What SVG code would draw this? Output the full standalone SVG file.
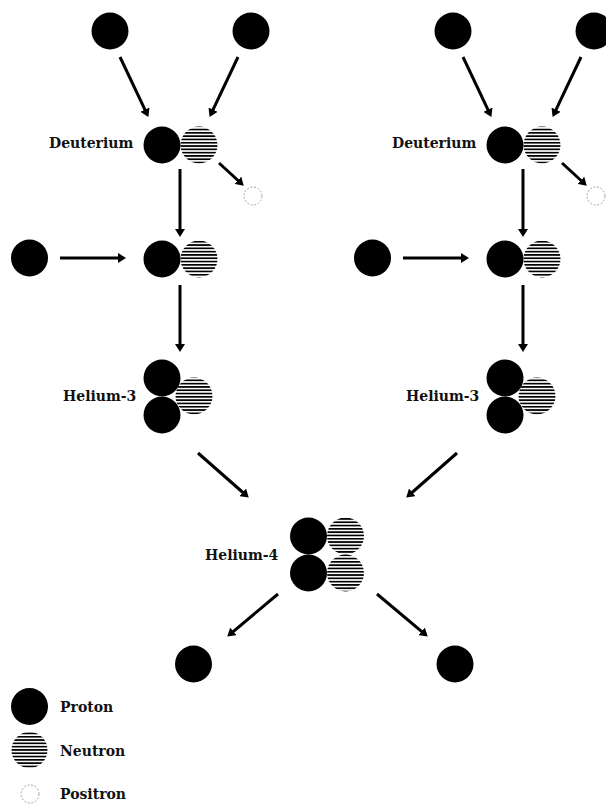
<svg xmlns="http://www.w3.org/2000/svg" width="606" height="804" viewBox="0 0 606 804">
  <style>
    .p { fill: #000; }
    .n { fill: url(#stripes); }
    .e { fill: #fff; stroke: #9a9a9a; stroke-width: 0.9; stroke-dasharray: 2 1.6; }
    .lbl { font-family: "DejaVu Serif", "Liberation Serif", serif; font-weight: bold; font-size: 14px; fill: #111; }
    .arr { stroke: #000; stroke-width: 3; fill: none; marker-end: url(#head); }
  </style>
  <defs>
    <pattern id="stripes" patternUnits="userSpaceOnUse" width="12" height="3.3">
      <rect x="0" y="0" width="12" height="1.7" fill="#000"/>
    </pattern>
    <marker id="head" markerUnits="userSpaceOnUse" markerWidth="8" markerHeight="10" viewBox="0 0 8 10" refX="1" refY="5" orient="auto">
      <path d="M0,0 L8,5 L0,10 z" fill="#000"/>
    </marker>
  </defs>
  <rect width="606" height="804" fill="#fff"/>

  <!-- left chain -->
  <g id="left-chain">
    <g id="L-p1"><circle class="p" cx="110" cy="31" r="18.5"/></g>
    <g id="L-p2"><circle class="p" cx="251" cy="31" r="18.5"/></g>
    <g id="L-deuterium">
      <text class="lbl" x="49" y="148">Deuterium</text>
      <circle class="p" cx="162" cy="145" r="18.5"/>
      <circle class="n" cx="199" cy="145" r="18.5"/>
    </g>
    <g id="L-positron"><circle class="e" cx="253" cy="196" r="9"/></g>
    <g id="L-p3"><circle class="p" cx="29.5" cy="258" r="18.5"/></g>
    <g id="L-deuterium2">
      <circle class="p" cx="162" cy="259" r="18.5"/>
      <circle class="n" cx="199" cy="259" r="18.5"/>
    </g>
    <g id="L-helium3">
      <text class="lbl" x="63" y="401">Helium-3</text>
      <circle class="n" cx="194" cy="396" r="18.5"/>
      <circle class="p" cx="162" cy="378" r="18.5"/>
      <circle class="p" cx="162" cy="415" r="18.5"/>
    </g>
  </g>

  <!-- right chain -->
  <g id="right-chain">
    <g id="R-p1"><circle class="p" cx="453" cy="31" r="18.5"/></g>
    <g id="R-p2"><circle class="p" cx="594" cy="31" r="18.5"/></g>
    <g id="R-deuterium">
      <text class="lbl" x="392" y="148">Deuterium</text>
      <circle class="p" cx="505" cy="145" r="18.5"/>
      <circle class="n" cx="542" cy="145" r="18.5"/>
    </g>
    <g id="R-positron"><circle class="e" cx="596" cy="196" r="9"/></g>
    <g id="R-p3"><circle class="p" cx="372.5" cy="258" r="18.5"/></g>
    <g id="R-deuterium2">
      <circle class="p" cx="505" cy="259" r="18.5"/>
      <circle class="n" cx="542" cy="259" r="18.5"/>
    </g>
    <g id="R-helium3">
      <text class="lbl" x="406" y="401">Helium-3</text>
      <circle class="n" cx="537" cy="396" r="18.5"/>
      <circle class="p" cx="505" cy="378" r="18.5"/>
      <circle class="p" cx="505" cy="415" r="18.5"/>
    </g>
  </g>

  <!-- helium-4 and released protons -->
  <g id="helium4">
    <text class="lbl" x="205" y="560">Helium-4</text>
    <circle class="n" cx="345.5" cy="536" r="18.5"/>
    <circle class="n" cx="345.5" cy="573" r="18.5"/>
    <circle class="p" cx="308.5" cy="536" r="18.5"/>
    <circle class="p" cx="308.5" cy="573" r="18.5"/>
  </g>
  <g id="out-p1"><circle class="p" cx="193.5" cy="664" r="18.5"/></g>
  <g id="out-p2"><circle class="p" cx="455" cy="664" r="18.5"/></g>

  <!-- connectors -->
  <g id="connectors">
    <line class="arr" x1="120" y1="57" x2="145.4" y2="110.6"/>
    <line class="arr" x1="238" y1="57" x2="212.6" y2="110.6"/>
    <line class="arr" x1="219" y1="163" x2="238.6" y2="181"/>
    <line class="arr" x1="180" y1="169" x2="180" y2="230"/>
    <line class="arr" x1="60" y1="258" x2="119" y2="258"/>
    <line class="arr" x1="180" y1="285" x2="180" y2="345"/>

    <line class="arr" x1="463" y1="57" x2="488.4" y2="110.6"/>
    <line class="arr" x1="581" y1="57" x2="555.6" y2="110.6"/>
    <line class="arr" x1="562" y1="163" x2="581.6" y2="181"/>
    <line class="arr" x1="523" y1="169" x2="523" y2="230"/>
    <line class="arr" x1="403" y1="258" x2="462" y2="258"/>
    <line class="arr" x1="523" y1="285" x2="523" y2="345"/>

    <line class="arr" x1="198" y1="453" x2="243.5" y2="493"/>
    <line class="arr" x1="457" y1="453" x2="411.5" y2="493"/>
    <line class="arr" x1="278" y1="594" x2="232.6" y2="632.1"/>
    <line class="arr" x1="377" y1="594" x2="422.4" y2="632.1"/>
  </g>

  <!-- legend -->
  <g id="legend">
    <g id="legend-proton">
      <circle class="p" cx="29.5" cy="706.5" r="18.5"/>
      <text class="lbl" x="60" y="712">Proton</text>
    </g>
    <g id="legend-neutron">
      <circle class="n" cx="29.5" cy="750" r="18"/>
      <text class="lbl" x="60" y="756">Neutron</text>
    </g>
    <g id="legend-positron">
      <circle class="e" cx="30" cy="794" r="9"/>
      <text class="lbl" x="60" y="799">Positron</text>
    </g>
  </g>
</svg>
